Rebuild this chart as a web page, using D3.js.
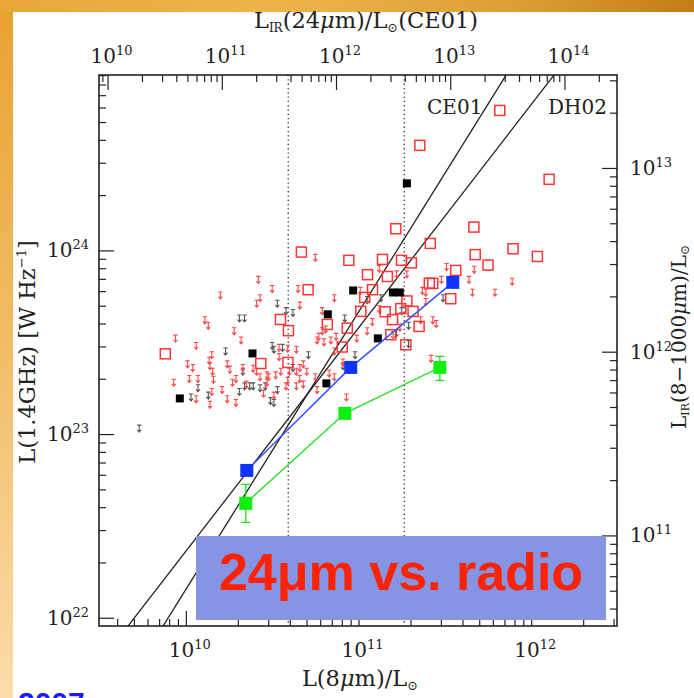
<!DOCTYPE html>
<html>
<head>
<meta charset="utf-8">
<script src="https://cdn.jsdelivr.net/npm/d3@7"></script>
<style>
  html, body { margin: 0; padding: 0; background: #fff; }
  svg { display: block; }
</style>
</head>
<body>
<svg id="slide" width="694" height="698"></svg>
<script>
// values, as log10 of the luminosities
// [log L(8um)/Lsun, log L(1.4GHz) W/Hz]
let redSquares = [
  [10.669,23.991],[10.944,23.946],[11.052,23.868],[10.708,23.786],[11.081,23.786],[11.036,23.744],
  [11.139,23.951],[11.818,24.762],[11.355,24.572],[12.104,24.387],[11.216,24.118],[11.668,24.127],
  [11.416,24.038],[11.895,24.009],[11.676,23.977],[12.036,23.967],[11.249,23.946],[11.306,23.932],
  [11.750,23.920],[11.563,23.891],[11.167,23.858],[11.410,23.822],[11.430,23.820],[11.534,23.737],
  [11.280,23.725],[11.013,23.668],[11.155,23.666],[11.245,23.683],[11.316,23.668],[11.197,23.623],
  [11.351,23.586],[10.819,23.597],[10.935,23.577],[11.187,23.541],[10.906,23.474],[11.274,23.486],
  [10.548,23.624],[10.594,23.563],[9.881,23.437],[10.434,23.384],[10.591,23.390]
];
let blackSquares = [
  [9.965,23.194],[10.386,23.439],[10.822,23.652],[10.814,23.276],[10.969,23.782],
  [11.199,23.771],[11.239,23.771],[11.112,23.521],[11.280,24.365]
];
// radio upper limits
let redLimits = [
  [10.75,23.96],[10.42,23.84],[10.50,23.79],[10.65,23.79],[10.20,23.755],[10.43,23.74],[10.41,23.71],
  [10.66,23.70],[10.11,23.62],[10.13,23.59],[10.28,23.56],[9.94,23.52],[10.32,23.51],[10.06,23.48],
  [10.77,23.53],[10.76,23.51],[10.80,23.50],[10.64,23.46],[10.54,23.47],[10.59,23.465],[10.15,23.43],
  [10.135,23.40],[10.54,23.42],[10.14,23.37],[10.01,23.38],[10.04,23.36],[10.24,23.38],[10.255,23.35],
  [10.33,23.36],[10.39,23.356],[10.41,23.34],[10.43,23.31],[10.47,23.32],[10.52,23.32],[10.55,23.34],
  [10.60,23.34],[10.68,23.38],[10.66,23.36],[10.64,23.34],[10.70,23.34],[10.155,23.34],[10.07,23.30],
  [10.02,23.30],[10.16,23.296],[9.93,23.28],[10.27,23.28],[10.29,23.30],[10.35,23.27],[10.47,23.28],
  [10.48,23.31],[10.58,23.26],[10.59,23.29],[10.64,23.26],[10.68,23.27],[10.75,23.31],[10.76,23.24],
  [10.21,23.24],[10.15,23.23],[10.24,23.19],[10.06,23.19],[10.14,23.16],[10.29,23.17],[10.45,23.22],
  [10.51,23.21],[10.66,23.30],[10.86,23.74],[11.12,23.90],[11.22,23.87],[11.28,23.87],[11.01,23.78],
  [11.37,23.78],[11.39,23.77],[11.67,23.895],[11.64,23.84],[11.66,23.77],[11.79,23.77],[11.51,23.91],
  [11.48,23.84],[11.39,23.72],[10.79,23.67],[11.12,23.68],[11.08,23.61],[11.05,23.56],[10.99,23.52],
  [10.87,23.53],[10.84,23.51],[10.81,23.57],[10.86,23.45],[11.43,23.62],[11.45,23.60],[11.36,23.62],
  [11.24,23.58],[11.20,23.54],[10.91,23.39],[10.83,23.33],[10.86,23.31],[10.93,23.20],[11.42,23.41],
  [10.79,23.56],[11.89,23.83]
];
let blackLimits = [
  [10.31,23.63],[10.34,23.63],[10.53,23.71],[10.58,23.67],[10.62,23.66],[10.50,23.48],[10.51,23.46],
  [10.56,23.47],[10.23,23.45],[10.71,23.43],[10.33,23.34],[10.07,23.25],[10.34,23.26],[10.37,23.26],
  [10.39,23.26],[10.31,23.23],[10.46,23.26],[10.43,23.25],[10.53,23.24],[10.13,23.21],[10.03,23.20],
  [10.49,23.18],[10.51,23.17],[10.62,23.36],[9.73,23.03],[11.05,23.73],[11.13,23.74],[11.49,23.74],
  [11.25,23.67],[11.29,23.59],[10.92,23.63],[11.22,23.55],[10.91,23.37],[11.29,23.49],[10.98,23.43]
];
// stacked bins
let blueBins = [[10.353,22.802],[10.955,23.363],[11.546,23.826]];
let greenBins = [[10.347,22.623],[10.921,23.113],[11.471,23.363]];
let greenErr = [[22.519,22.726],[23.085,23.14],[23.292,23.423]];

// SED model relations: log L1.4 = a + b * log L8
let modelNames = ["CE01", "DH02"];
let modelA = [7.054, 10.202];
let modelB = [1.51, 1.216];
let cutL8 = [10.593, 11.265];

// axis ranges (log10) and tick decades
let xRange = [9.497, 12.497];
let yRange = [21.955, 24.955];
let topRange = [9.925, 14.46];
let rightRange = [10.507, 13.506];
let xTickExps = [10, 11, 12];
let yTickExps = [22, 23, 24];
let topTickExps = [10, 11, 12, 13, 14];
let rightTickExps = [11, 12, 13];

let width = 694;
let height = 698;
let margin = ({ top: 75, right: 77, bottom: 72, left: 99 });
let serif = "'DejaVu Serif', serif";
let p = v => Math.pow(10, v);

let svg = d3.select("#slide");
let defs = svg.append("defs");

// slide background
let topGrad = defs.append("linearGradient").attr("id", "topGrad");
[["0%", "#e9a738"], ["40%", "#eeb44c"], ["75%", "#dd9d36"], ["100%", "#c37d18"]]
  .forEach(s => topGrad.append("stop").attr("offset", s[0]).attr("stop-color", s[1]));
let sideGrad = defs.append("linearGradient").attr("id", "sideGrad")
  .attr("x1", 0).attr("y1", 0).attr("x2", 0).attr("y2", 1);
[["0%", "#e8a232"], ["45%", "#f1bb62"], ["100%", "#fcdcaa"]]
  .forEach(s => sideGrad.append("stop").attr("offset", s[0]).attr("stop-color", s[1]));
svg.append("rect").attr("width", width).attr("height", height).attr("fill", "url(#topGrad)");
svg.append("rect").attr("x", 0).attr("y", 12).attr("width", 13).attr("height", height - 12).attr("fill", "url(#sideGrad)");
svg.append("rect").attr("x", 13).attr("y", 12).attr("width", width - 13).attr("height", height - 12).attr("fill", "#fff");

let x = d3.scaleLog().domain(xRange.map(p)).range([margin.left, width - margin.right]);
let y = d3.scaleLog().domain(yRange.map(p)).range([height - margin.bottom, margin.top]);
let xTop = d3.scaleLog().domain(topRange.map(p)).range([margin.left, width - margin.right]);
let yRight = d3.scaleLog().domain(rightRange.map(p)).range([height - margin.bottom, margin.top]);

let x0 = margin.left, x1 = width - margin.right, y0 = height - margin.bottom, y1 = margin.top;

defs.append("clipPath").attr("id", "plotClip")
  .append("rect").attr("x", x0).attr("y", y1).attr("width", x1 - x0).attr("height", y0 - y1);

// ticks (inward, major + minor)
function drawTicks(axisFn, scale, transform) {
  let all = scale.ticks();
  let majors = all.filter(v => Math.abs(Math.log10(v) - Math.round(Math.log10(v))) < 1e-6);
  let minors = all.filter(v => !majors.includes(v));
  [[minors, 7], [majors, 15]].forEach(([vals, len]) => {
    svg.append("g")
      .attr("transform", transform)
      .call(axisFn(scale).tickValues(vals).tickSize(-len).tickSizeOuter(0).tickFormat(""))
      .call(g => g.select(".domain").remove())
      .call(g => g.selectAll("line").attr("stroke", "#222").attr("stroke-width", 1.2));
  });
}
drawTicks(d3.axisBottom, x, `translate(0,${y0})`);
drawTicks(d3.axisTop, xTop, `translate(0,${y1})`);
drawTicks(d3.axisLeft, y, `translate(${x0},0)`);
drawTicks(d3.axisRight, yRight, `translate(${x1},0)`);

function powLabel(xp, yp, exp, anchor) {
  let t = svg.append("text")
    .attr("x", xp).attr("y", yp)
    .attr("font-family", serif).attr("font-size", 20)
    .attr("text-anchor", anchor).attr("fill", "#222");
  t.append("tspan").text("10");
  t.append("tspan").attr("dy", -8).attr("font-size", 13).text(exp);
}
xTickExps.forEach(e => powLabel(x(p(e)) + 4, 657, e, "middle"));
topTickExps.forEach(e => powLabel(xTop(p(e)) + 4, 63, e, "middle"));
yTickExps.forEach(e => powLabel(89, y(p(e)) + 7, e, "end"));
rightTickExps.forEach(e => powLabel(630, yRight(p(e)) + 7, e, "start"));

// axis titles
let titleSize = 22.5;
let tTop = svg.append("text").attr("x", 366).attr("y", 28)
  .attr("font-family", serif).attr("font-size", titleSize).attr("text-anchor", "middle").attr("fill", "#222");
tTop.append("tspan").text("L");
tTop.append("tspan").attr("font-size", 12).attr("dy", 4).text("IR");
tTop.append("tspan").attr("dy", -4).text("(24");
tTop.append("tspan").attr("font-style", "italic").text("\u03bc");
tTop.append("tspan").text("m)/L");
tTop.append("tspan").attr("font-size", 13).attr("dy", 4).text("\u2299");
tTop.append("tspan").attr("dy", -4).text("(CE01)");

let tBottom = svg.append("text").attr("x", 360).attr("y", 686)
  .attr("font-family", serif).attr("font-size", titleSize).attr("text-anchor", "middle").attr("fill", "#222");
tBottom.append("tspan").text("L(8");
tBottom.append("tspan").attr("font-style", "italic").text("\u03bc");
tBottom.append("tspan").text("m)/L");
tBottom.append("tspan").attr("font-size", 13).attr("dy", 4).text("\u2299");

let tLeft = svg.append("text").attr("transform", "translate(35,352) rotate(-90)")
  .attr("font-family", serif).attr("font-size", titleSize).attr("text-anchor", "middle").attr("fill", "#222");
tLeft.append("tspan").text("L(1.4GHz) [W Hz");
tLeft.append("tspan").attr("font-size", 13).attr("dy", -9).text("\u22121");
tLeft.append("tspan").attr("dy", 9).text("]");

let tRight = svg.append("text").attr("transform", "translate(686,337) rotate(-90)")
  .attr("font-family", serif).attr("font-size", 20).attr("text-anchor", "middle").attr("fill", "#222");
tRight.append("tspan").text("L");
tRight.append("tspan").attr("font-size", 11).attr("dy", 3).text("IR");
tRight.append("tspan").attr("dy", -3).text("(8\u22121000");
tRight.append("tspan").attr("font-style", "italic").text("\u03bc");
tRight.append("tspan").text("m)/L");
tRight.append("tspan").attr("font-size", 12).attr("dy", 3).text("\u2299");

let plot = svg.append("g").attr("clip-path", "url(#plotClip)");

// vertical dotted cuts
plot.selectAll(".cut").data(cutL8).join("line")
  .attr("x1", d => x(p(d))).attr("x2", d => x(p(d)))
  .attr("y1", y1).attr("y2", y0)
  .attr("stroke", "#333").attr("stroke-width", 1.3).attr("stroke-dasharray", "1.3,3");

// model lines
modelNames.forEach((name, i) => {
  let ends = xRange.map(lx => [p(lx), p(modelA[i] + modelB[i] * lx)]);
  plot.append("path")
    .attr("d", d3.line().x(d => x(d[0])).y(d => y(d[1]))(ends))
    .attr("fill", "none").attr("stroke", "#222").attr("stroke-width", 1.3);
});
svg.append("text").attr("x", 427).attr("y", 114).attr("font-family", serif).attr("font-size", 20)
  .attr("fill", "#222").text(modelNames[0]);
svg.append("text").attr("x", 548).attr("y", 114).attr("font-family", serif).attr("font-size", 20)
  .attr("fill", "#222").text(modelNames[1]);

// upper-limit arrows
let arrow = "M-2.2,-3.4H2.2M0,-3.4V3.6M-2,1.2L0,3.6L2,1.2";
function drawLimits(data, color) {
  plot.append("g").selectAll("path").data(data).join("path")
    .attr("transform", d => `translate(${x(p(d[0]))},${y(p(d[1]))})`)
    .attr("d", arrow).attr("fill", "none")
    .attr("stroke", color).attr("stroke-width", 1.1);
}
drawLimits(blackLimits, "#555");
drawLimits(redLimits, "#ff4848");

// detections
let sq = 10;
plot.append("g").selectAll("rect").data(redSquares).join("rect")
  .attr("x", d => x(p(d[0])) - sq / 2).attr("y", d => y(p(d[1])) - sq / 2)
  .attr("width", sq).attr("height", sq)
  .attr("fill", "none").attr("stroke", "#ff3434").attr("stroke-width", 1.5);
let bs = 8;
plot.append("g").selectAll("rect").data(blackSquares).join("rect")
  .attr("x", d => x(p(d[0])) - bs / 2).attr("y", d => y(p(d[1])) - bs / 2)
  .attr("width", bs).attr("height", bs).attr("fill", "#000");

// stacked points
let lineGen = d3.line().x(d => x(p(d[0]))).y(d => y(p(d[1])));
plot.append("path").attr("d", lineGen(blueBins)).attr("fill", "none")
  .attr("stroke", "#3355ff").attr("stroke-width", 1.5);
plot.append("path").attr("d", lineGen(greenBins)).attr("fill", "none")
  .attr("stroke", "#33dd33").attr("stroke-width", 1.5);
greenBins.forEach((d, i) => {
  let cx = x(p(d[0]));
  let ya = y(p(greenErr[i][0])), yb = y(p(greenErr[i][1]));
  let g = plot.append("g").attr("stroke", "#22dd22").attr("stroke-width", 1.3);
  g.append("line").attr("x1", cx).attr("x2", cx).attr("y1", ya).attr("y2", yb);
  g.append("line").attr("x1", cx - 4.5).attr("x2", cx + 4.5).attr("y1", ya).attr("y2", ya);
  g.append("line").attr("x1", cx - 4.5).attr("x2", cx + 4.5).attr("y1", yb).attr("y2", yb);
});
let big = 13;
plot.append("g").selectAll("rect").data(blueBins).join("rect")
  .attr("x", d => x(p(d[0])) - big / 2).attr("y", d => y(p(d[1])) - big / 2)
  .attr("width", big).attr("height", big).attr("fill", "#1133ff");
plot.append("g").selectAll("rect").data(greenBins).join("rect")
  .attr("x", d => x(p(d[0])) - big / 2).attr("y", d => y(p(d[1])) - big / 2)
  .attr("width", big).attr("height", big).attr("fill", "#11ee11");

// frame
svg.append("rect").attr("x", x0).attr("y", y1).attr("width", x1 - x0).attr("height", y0 - y1)
  .attr("fill", "none").attr("stroke", "#222").attr("stroke-width", 1.6);

// slide overlay
svg.append("rect").attr("x", 196).attr("y", 536).attr("width", 410).attr("height", 84).attr("fill", "#8594e3");
svg.append("text").attr("x", 401).attr("y", 590)
  .attr("font-family", "'Liberation Sans', Arial, sans-serif").attr("font-weight", "bold")
  .attr("font-size", 52).attr("text-anchor", "middle").attr("fill", "#ff2200")
  .text("24\u03bcm vs. radio");
svg.append("text").attr("x", 18).attr("y", 713)
  .attr("font-family", "'Liberation Sans', Arial, sans-serif").attr("font-weight", "bold")
  .attr("font-size", 30).attr("fill", "#1a1aff").text("2007");
</script>
</body>
</html>
